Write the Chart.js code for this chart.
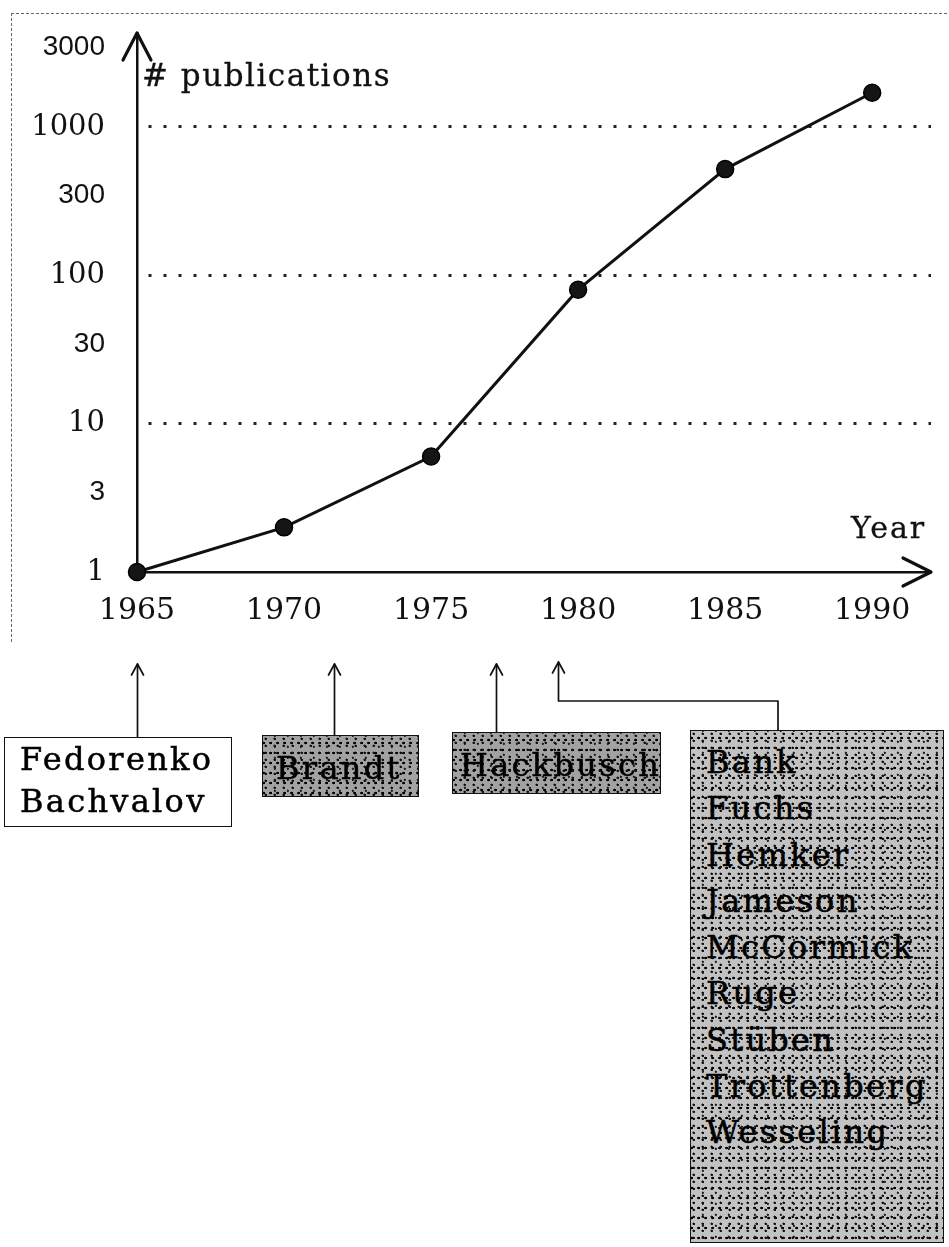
<!DOCTYPE html>
<html>
<head>
<meta charset="utf-8">
<script src="https://cdn.jsdelivr.net/npm/chart.js@4.4.1/dist/chart.umd.min.js"></script>
<style>
  html, body { margin: 0; padding: 0; background: #fff; }
  #wrap { position: relative; width: 949px; height: 1247px; overflow: hidden; background: #fff; }
  #frame { position: absolute; left: 11px; top: 13px; width: 945px; height: 628px;
           border-top: 1.5px dashed #666; border-left: 1.5px dashed #666; }
  #c { position: absolute; left: 0; top: 0; }
  .lbl { position: absolute; font-family: 'DejaVu Serif', serif; color: #111; white-space: nowrap; line-height: 40px;
         -webkit-text-stroke: 0.3px #111; }
  .box { position: absolute; box-sizing: border-box; border: 1.5px solid #111;
         font-family: 'DejaVu Serif', serif; font-size: 32px; letter-spacing: 2.3px;
         color: #000; white-space: nowrap; overflow: visible; -webkit-text-stroke: 0.5px #000; }
  .stipple {
    background-color: #c2c2c2;
    background-image:
      radial-gradient(circle at 30% 40%, #111 1px, transparent 1.5px),
      radial-gradient(circle at 60% 70%, #222 0.9px, transparent 1.4px),
      radial-gradient(circle at 80% 20%, #000 1.1px, transparent 1.6px);
    background-size: 9px 7px, 13px 11px, 7px 10px;
    background-position: 0 0, 4px 3px, 2px 5px;
  }
  .stipple.dark { background-color: #a2a2a2; }
</style>
</head>
<body>
<div id="wrap">
  <div id="frame"></div>
  <canvas id="c" width="949" height="745"></canvas>
  <div id="titles"></div>
  <div id="boxes"></div>
</div>
<script>
// ---- data ----
const years = [1965, 1970, 1975, 1980, 1985, 1990];
const publications = [1, 2, 6, 80, 520, 1700];
const yTickValues = [1, 3, 10, 30, 100, 300, 1000, 3000];
const yGridValues = [10, 100, 1000];
const ySansTicks = [3, 30, 300, 3000];
const xTickStep = 5;
const yAxisTitle = '# publications';
const xAxisTitle = 'Year';
const pioneerGroups = [
  ['Fedorenko', 'Bachvalov'],
  ['Brandt'],
  ['Hackbusch'],
  ['Bank', 'Fuchs', 'Hemker', 'Jameson', 'McCormick', 'Ruge', 'Stüben', 'Trottenberg', 'Wesseling']
];
const pioneerYears = [1965, 1971.7, 1977.2, 1979.3];

// ---- layout (positions / styles only) ----
const CANVAS_H = 745;
const AXIS_Y = 572;
const boxLayout = [
  { left: 4,   top: 737, width: 228, height: 90,  cls: '',             padL: 15, padT: 0,  lh: 42 },
  { left: 262, top: 735, width: 157, height: 62,  cls: 'stipple dark', padL: 13, padT: 10, lh: 44 },
  { left: 452, top: 732, width: 209, height: 62,  cls: 'stipple dark', padL: 7,  padT: 10, lh: 44 },
  { left: 690, top: 730, width: 254, height: 513, cls: 'stipple',      padL: 15, padT: 8,  lh: 46.3 }
];
const arrowLayout = [
  { from: 737, tip: 664 },
  { from: 735, tip: 664 },
  { from: 732, tip: 664 },
  { from: 701, tip: 662, elbowX: 778, elbowTo: 730 }
];

// ---- titles & boxes as HTML text ----
const titles = document.getElementById('titles');
function addLabel(text, left, top, size, spacing) {
  const d = document.createElement('div');
  d.className = 'lbl';
  d.textContent = text;
  d.style.left = left + 'px';
  d.style.top = top + 'px';
  d.style.fontSize = size + 'px';
  d.style.letterSpacing = spacing + 'px';
  titles.appendChild(d);
}
addLabel(yAxisTitle, 142, 55, 31, 1.5);
addLabel(xAxisTitle, 851, 508, 30, 2);

const boxes = document.getElementById('boxes');
pioneerGroups.forEach((names, i) => {
  const L = boxLayout[i];
  const d = document.createElement('div');
  d.className = 'box ' + L.cls;
  Object.assign(d.style, {
    left: L.left + 'px', top: L.top + 'px', width: L.width + 'px', height: L.height + 'px',
    paddingLeft: L.padL + 'px', paddingTop: L.padT + 'px', lineHeight: L.lh + 'px'
  });
  d.innerHTML = names.map(n => '<div>' + n + '</div>').join('');
  boxes.appendChild(d);
});

// ---- arrows plugin ----
const arrowPlugin = {
  id: 'arrows',
  afterDraw(chart) {
    const { ctx, chartArea: a, scales: { x } } = chart;
    ctx.save();
    ctx.strokeStyle = '#111';
    ctx.lineCap = 'round';
    ctx.lineJoin = 'round';
    ctx.lineWidth = 3.2;
    ctx.beginPath();
    ctx.moveTo(a.left - 14, a.top + 27);
    ctx.lineTo(a.left, a.top);
    ctx.lineTo(a.left + 14, a.top + 27);
    ctx.stroke();
    ctx.beginPath();
    ctx.moveTo(a.right - 28, a.bottom - 14);
    ctx.lineTo(a.right, a.bottom);
    ctx.lineTo(a.right - 28, a.bottom + 14);
    ctx.stroke();
    ctx.lineWidth = 1.7;
    pioneerYears.forEach((yr, i) => {
      const px = Math.round(x.getPixelForValue(yr)) + 0.5;
      const L = arrowLayout[i];
      ctx.beginPath();
      if (L.elbowX !== undefined) {
        ctx.moveTo(L.elbowX, L.elbowTo);
        ctx.lineTo(L.elbowX, L.from);
        ctx.lineTo(px, L.from);
      } else {
        ctx.moveTo(px, L.from);
      }
      ctx.lineTo(px, L.tip);
      ctx.stroke();
      ctx.beginPath();
      ctx.moveTo(px - 6, L.tip + 11);
      ctx.lineTo(px, L.tip);
      ctx.lineTo(px + 6, L.tip + 11);
      ctx.stroke();
    });
    ctx.restore();
  }
};

function noScalePadding(s) {
  s.paddingTop = 0; s.paddingBottom = 0; s.paddingLeft = 0; s.paddingRight = 0;
}

// ---- chart ----
new Chart(document.getElementById('c'), {
  type: 'line',
  data: {
    datasets: [{
      data: years.map((yr, i) => ({ x: yr, y: publications[i] })),
      borderColor: '#111',
      borderWidth: 3,
      pointRadius: 8.5,
      pointBackgroundColor: '#151515',
      pointBorderColor: '#000',
      pointBorderWidth: 1.5,
      tension: 0,
      clip: false
    }]
  },
  options: {
    responsive: false,
    animation: false,
    devicePixelRatio: 1,
    layout: { padding: { top: 33, left: 0, right: 18, bottom: 0 } },
    plugins: { legend: { display: false }, tooltip: { enabled: false } },
    scales: {
      x: {
        type: 'linear',
        min: 1965,
        max: 1992,
        afterFit: s => { s.height = CANVAS_H - AXIS_Y; noScalePadding(s); },
        grid: { display: false, drawTicks: false },
        border: { display: true, color: '#111', width: 2.5 },
        ticks: {
          stepSize: xTickStep,
          includeBounds: false,
          padding: 21,
          color: '#111',
          maxRotation: 0,
          autoSkip: false,
          font: { family: 'DejaVu Serif', size: 30 },
          callback: v => String(v)
        }
      },
      y: {
        type: 'logarithmic',
        min: 1,
        max: 4300,
        afterFit: s => { s.width = 137; noScalePadding(s); },
        afterBuildTicks: s => { s.ticks = yTickValues.map(v => ({ value: v })); },
        grid: {
          drawTicks: false,
          lineWidth: 3,
          color: c => (c.tick && yGridValues.includes(c.tick.value)) ? '#222' : 'rgba(0,0,0,0)'
        },
        border: { display: true, color: '#111', width: 2.5, dash: [3, 12], dashOffset: -10 },
        ticks: {
          padding: 32,
          color: '#111',
          font: c => (c.tick && ySansTicks.includes(c.tick.value))
            ? { family: 'Liberation Sans', size: 28, lineHeight: '18px' }
            : { family: 'DejaVu Serif', size: 29 },
          callback: v => ySansTicks.includes(v) ? [String(v), ''] : String(v)
        }
      }
    }
  },
  plugins: [arrowPlugin]
});
</script>
</body>
</html>
